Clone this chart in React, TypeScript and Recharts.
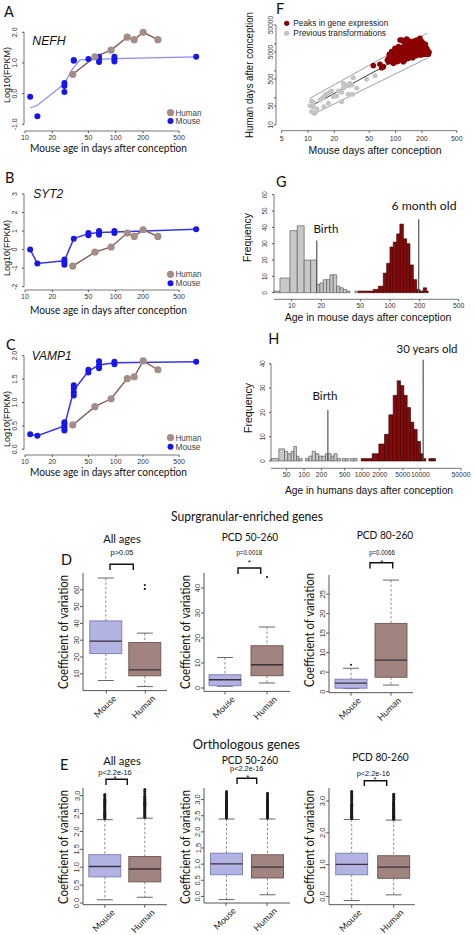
import React from 'react';
import { ComposedChart, Scatter, Line, Bar, XAxis, YAxis, ReferenceLine, ReferenceArea } from 'recharts';

const LATO = 'Lato, "Open Sans", sans-serif';
const ARIAL = '"Liberation Sans", Arial, sans-serif';

// ===== Panels A–C: log10(FPKM) vs mouse age (days after conception) =====
const mouseAgeDays = [11.4, 13.7, 27.2, 34.5, 50, 65.5, 96.8, 771];
const humanAgeInMouseDays = [33.6, 59, 89, 134, 160, 201, 292];
const ageTicks = [10, 20, 50, 100, 200, 500];

const nefhHuman = [0.63, 1.2, 1.42, 1.84, 1.76, 2.0, 1.76];
const nefhMouse = [[-0.1], [-0.74], [0.05, 0.25, 0.35], [1.07, 1.1], [1.13], [1.03, 1.12, 1.2], [1.05, 1.12, 1.2], [1.2]];
const nefhFitAges = [11.4, 13.7, 27.2, 32.7, 40.4, 65.5, 96.8, 771];
const nefhFit = [-0.47, -0.38, 0.32, 0.77, 1.1, 1.12, 1.14, 1.2];

const syt2Human = [-0.89, -0.14, 0.14, 0.89, 0.71, 1.07, 0.71];
const syt2Mouse = [[0], [-0.75], [-0.54, -0.68, -0.82], [0.59], [0.78, 0.9], [0.8, 0.9, 1.0], [0.9, 1.0], [1.1]];
const syt2MouseMean = [0, -0.75, -0.6, 0.59, 0.86, 0.92, 0.95, 1.1];

const vamp1Human = [0.52, 0.91, 1.08, 1.51, 1.55, 1.89, 1.7];
const vamp1Mouse = [[0.32], [0.29], [0.4, 0.44, 0.49, 0.54, 0.58], [1.15, 1.22, 1.3, 1.37], [1.64, 1.7], [1.73, 1.8, 1.88], [1.82, 1.87], [1.87]];
const vamp1MouseMean = [0.32, 0.29, 0.5, 1.26, 1.67, 1.8, 1.85, 1.87];

// ===== Panel F: human vs mouse days =====
const fXTicks = [5, 10, 20, 50, 100, 200, 500];
const fYTicks = [10, 50, 100, 500, 1000, 5000, 10000, 50000];
const fYLabelled = [10, 50, 500, 5000, 50000];
const prevMouseDays = [10.5, 11.5, 11.0, 12.6, 13.7, 14.7, 15.6, 16.3, 17.8, 18.6, 15.2, 19.5, 21.2, 24.2, 25.3, 26.4, 27.7, 28.9, 30.2, 31.6, 33.0, 28.9, 32.4, 24.2, 36.0, 46.8, 58.2, 11.5, 12.0, 17.1, 11.0, 22.2, 25.3];
const prevHumanDays = [51, 68, 31, 39, 83, 102, 128, 139, 160, 180, 47, 111, 117, 160, 225, 260, 300, 283, 346, 300, 560, 135, 135, 72, 225, 486, 664, 47, 27, 63, 77, 180, 346];
const peakMouseDays = [55.7, 66.4, 69.5, 72.6, 82.8, 80.6, 86.4, 90.3, 94.4, 98.6, 103, 104.9, 107.6, 112.5, 114.4, 117.5, 120.6, 124.9, 128.3, 131.7, 134.1, 137.6, 141.3, 146.3, 148.9, 152.9, 157, 159.7, 164, 168.4, 174.4, 177.5, 182.2, 187.1, 190.4, 193.8, 198.9, 204.2, 207.8, 211.5, 219.1, 222.9, 230.9, 237.1, 117.5, 134.1, 112.5, 124.9, 143.8, 174.4, 98.6, 90.3, 84.9, 108.6, 122.8, 140.1, 159.7, 182.2, 198.9, 157, 94.4,
  83.4, 88.0, 92.7, 97.7, 101.2, 106.7, 110.5, 115.5, 119.6, 122.8, 127.2, 130.6, 136.4, 142.5, 147.6, 151.6, 155.6, 162.6, 166.9, 171.4, 179.1, 185.4, 192.0, 200.7, 206.0, 215.2, 226.9, 235.0, 241.3, 219.1, 190.4, 171.4, 146.3, 128.3, 112.5, 103];
const peakHumanDays = [1560, 1750, 1315, 1430, 2190, 2530, 3080, 2190, 3870, 2750, 4860, 3360, 2320, 5930, 4100, 2910, 7240, 4860, 3460, 8580, 5930, 4100, 9620, 6830, 4860, 11410, 7880, 5450, 12780, 9080, 6460, 4100, 10470, 7880, 16040, 5450, 12070, 8580, 6830, 4460, 9620, 5930, 4860, 4100, 13920, 15150, 13920, 11410, 12780, 13920, 6830, 5150, 4100, 7880, 2190, 2910, 3660, 5150, 3870, 3080, 1900,
  2910, 3660, 2750, 4100, 3360, 5450, 3870, 5150, 3360, 6100, 7660, 4460, 7240, 5450, 8580, 4100, 6460, 7660, 4860, 10180, 7445, 6100, 9620, 4860, 10470, 7660, 6830, 5450, 4860, 4100, 3870, 3660, 3460, 2600, 2750, 2190];
const fitCenterMouse = [10.5, 208];
const fitCenterHuman = [47, 9080];
const fitUpperMouse = [10.5, 227];
const fitUpperHuman = [96, 24550];
const fitLowerMouse = [11, 237];
const fitLowerHuman = [23, 3080];

// ===== Panel G: histogram, mouse days =====
const gXTicks = [10, 20, 50, 100, 200, 500];
const gYTicks = [0, 10, 20, 30, 40, 50, 60];
const gPrevEdges = [6.6, 7.6, 9.6, 11.4, 13.4, 15.6, 17.9, 19.4, 21.0, 22.7, 24.5, 26.5, 28.7, 31.0, 33.5, 36.2, 39.2, 44.0, 47.6];
const gPrevCounts = [1, 9, 38, 41, 20, 20, 5, 6, 8, 8, 11, 11, 4, 3, 2, 1, 0, 1];
const gPeakEdges = [47.6, 67.7, 76.1, 85.5, 92.5, 100, 108, 117, 126, 137, 148, 160, 173, 187, 202, 218, 236, 245];
const gPeakCounts = [1, 2, 4, 12, 18, 28, 31, 36, 42, 33, 30, 17, 8, 2, 1, 3, 1];
const gBirthDay = 18;
const gBirthLineTop = 32;
const gSixMonthDay = 196;
const gSixMonthLineTop = 45;

// ===== Panel H: histogram, human days =====
const hXTicks = [50, 100, 200, 500, 1000, 2000, 5000, 10000, 50000];
const hYTicks = [0, 10, 20, 30, 40];
const hPrevEdges = [27.2, 36.9, 46.2, 52.7, 60.1, 66.8, 74.3, 81.5, 93, 106, 121, 138, 158, 180, 205, 234, 257, 293, 326, 372, 424, 453, 517, 590, 630, 719, 820];
const hPrevCounts = [1, 5, 4, 3, 4, 6, 2, 1, 0, 1, 2, 4, 3, 2, 2, 3, 3, 2, 3, 1, 0, 1, 1, 0, 1, 1];
const hPeakEdges = [961, 1486, 1933, 2420, 2873, 3411, 3993, 4558, 5200, 5936, 6774, 7730, 8817, 10070, 11190, 12420, 13990, 15970, 18230];
const hPeakCounts = [1, 3, 7, 11, 19, 27, 33, 31, 27, 22, 16, 13, 8, 3, 1, 0, 1, 1];
const hBirthDay = 257;
const hBirthLineTop = 21;
const hThirtyYearDay = 11190;
const hThirtyYearLineTop = 41.6;

// ===== Panels D & E: boxplots [lower whisker, Q1, median, Q3, upper whisker] =====
const supAllMouse = [6, 22, 29.4, 41.5, 67];
const supAllHuman = [2.4, 8.8, 12.3, 28.6, 34.2];
const supAllMouseOut: number[] = [];
const supAllHumanOut = [60.5, 62.8];
const sup50Mouse = [0.7, 0.9, 3.3, 5.3, 12.2];
const sup50Human = [2.0, 4.9, 9.3, 16.9, 24.4];
const sup50MouseOut: number[] = [];
const sup50HumanOut = [44.4];
const sup80Mouse = [0.8, 0.9, 2.2, 3.2, 6.0];
const sup80Human = [1.7, 3.7, 8.1, 17.5, 28.6];
const sup80MouseOut = [6.9];
const sup80HumanOut: number[] = [];

const orthAllMouse = [0.09, 0.73, 1.02, 1.35, 2.33];
const orthAllHuman = [0.16, 0.59, 0.95, 1.3, 2.37];
const orthAllMouseOut = [2.36, 2.39, 2.42, 2.45, 2.48, 2.51, 2.54, 2.57, 2.6, 2.63, 2.66, 2.69, 2.72, 2.75, 2.78, 2.81, 2.84, 2.87, 2.9, 2.95, 3.0, 3.03];
const orthAllHumanOut = [2.4, 2.43, 2.46, 2.49, 2.52, 2.55, 2.58, 2.61, 2.64, 2.67, 2.7, 2.73, 2.76, 2.79, 2.82, 2.85, 2.88, 2.91, 2.94, 2.97, 3.0, 3.06, 3.12, 3.17];
const orth50Mouse = [-0.1, 0.67, 1.01, 1.34, 2.4];
const orth50Human = [0.05, 0.57, 0.91, 1.29, 2.4];
const orth50MouseOut = [2.43, 2.46, 2.49, 2.52, 2.55, 2.58, 2.61, 2.64, 2.67, 2.7, 2.73, 2.76, 2.79, 2.82, 2.85, 2.88, 2.91, 2.94, 2.97, 3.0, 3.05, 3.1, 3.15, 3.2, 3.25];
const orth50HumanOut = [2.43, 2.46, 2.49, 2.52, 2.55, 2.58, 2.61, 2.64, 2.67, 2.7, 2.73, 2.76, 2.79, 2.82, 2.85, 2.88, 2.91, 2.94, 2.97, 3.0, 3.05, 3.1, 3.15, 3.2];
const orth80Mouse = [-0.13, 0.68, 1.01, 1.36, 2.42];
const orth80Human = [0.05, 0.57, 0.92, 1.28, 2.4];
const orth80MouseOut = [2.45, 2.48, 2.51, 2.54, 2.57, 2.6, 2.63, 2.66, 2.69, 2.72, 2.75, 2.78, 2.81, 2.84, 2.87, 2.9, 2.95, 3.0, 3.05, 3.1, 3.15, 3.2, 3.25, 3.3];
const orth80HumanOut = [2.43, 2.46, 2.49, 2.52, 2.55, 2.58, 2.61, 2.64, 2.67, 2.7, 2.73, 2.76, 2.79, 2.82, 2.85, 2.88, 2.91, 2.94, 2.97, 3.0, 3.06, 3.12, 3.17, 3.21];

const MT = 4;
const MR = 4;
const AX = '#555';

function XTickR(props: any) {
  const { x, y, payload, fs = 7 } = props;
  return (
    <text x={x} y={y} dy={fs * 0.72} textAnchor="middle" fontSize={fs} fontFamily={ARIAL} fill="#333">
      {String(payload.value)}
    </text>
  );
}

function YTickR(props: any) {
  const { x, y, payload, fs = 7, fmt, show } = props;
  const v = payload.value;
  if (show && !show.includes(v)) return <g />;
  const label = fmt ? fmt(v) : String(v);
  return (
    <text x={x} y={y} transform={`rotate(-90 ${x} ${y})`} textAnchor="middle" fontSize={fs} fontFamily={ARIAL} fill="#333">
      {label}
    </text>
  );
}

function CatTick(props: any) {
  const { x, y, payload } = props;
  const ax = x + 8;
  const ay = y + 1;
  return (
    <text x={ax} y={ay} transform={`rotate(-45 ${ax} ${ay})`} textAnchor="end" dominantBaseline="central" fontSize={9} fontFamily={LATO} fill="#222">
      {payload.value}
    </text>
  );
}

function ExprPanel(p: any) {
  const { l, t, r, b, xDomain, yDomain, yTicks, yFmt, human, mouse, lineAges, lineVals, lineColor, lineW } = p;
  const yw = l;
  const xh = 28;
  const humanData = humanAgeInMouseDays.map((x, i) => ({ x, y: human[i] }));
  const mouseData = mouseAgeDays.flatMap((x, i) => mouse[i].map((y: number) => ({ x, y })));
  const lineData = lineAges.map((x: number, i: number) => ({ x, y: lineVals[i] }));
  return (
    <div style={{ position: 'absolute', left: l - yw, top: t - MT }}>
      <ComposedChart width={r - l + yw + MR} height={b - t + MT + xh} margin={{ top: MT, right: MR, bottom: 0, left: 0 }}>
        <XAxis type="number" dataKey="x" scale="log" domain={xDomain} allowDataOverflow ticks={ageTicks} interval={0} height={xh}
          axisLine={false} tickSize={2} tickMargin={2} tickLine={{ stroke: AX }} tick={<XTickR fs={7} />} />
        <YAxis type="number" dataKey="y" domain={yDomain} allowDataOverflow ticks={yTicks} interval={0} width={yw}
          axisLine={false} tickSize={2} tickMargin={4.5} tickLine={{ stroke: AX }} tick={<YTickR fs={7} fmt={yFmt} />} />
        <ReferenceLine segment={[{ x: 10, y: yDomain[0] }, { x: 500, y: yDomain[0] }]} stroke={AX} strokeWidth={0.8} ifOverflow="visible" />
        <ReferenceLine segment={[{ x: xDomain[0], y: yTicks[0] }, { x: xDomain[0], y: yTicks[yTicks.length - 1] }]} stroke={AX} strokeWidth={0.8} ifOverflow="visible" />
        <Line data={lineData} dataKey="y" type="linear" stroke={lineColor} strokeWidth={lineW} dot={false} isAnimationActive={false} />
        <Scatter data={mouseData} dataKey="y" fill="#1717e8" isAnimationActive={false}
          shape={(s: any) => <circle cx={s.cx} cy={s.cy} r={3} fill="#1717e8" />} />
        <Line data={humanData} dataKey="y" type="linear" stroke="#7d5c57" strokeWidth={1.4}
          dot={{ r: 3.6, fill: '#a58c87', stroke: '#a58c87', strokeWidth: 0 }} isAnimationActive={false} />
      </ComposedChart>
    </div>
  );
}

function FPanel() {
  const l = 276, t = 16, r = 470, b = 130.7;
  const yw = 36, xh = 28;
  const xDomain = [4.31, 709];
  const yDomain = [6.08, 107700];
  const prev = prevMouseDays.map((x, i) => ({ x, y: prevHumanDays[i] }));
  const peak = peakMouseDays.map((x, i) => ({ x, y: peakHumanDays[i] }));
  const center = fitCenterMouse.map((x, i) => ({ x, y: fitCenterHuman[i] }));
  const upper = fitUpperMouse.map((x, i) => ({ x, y: fitUpperHuman[i] }));
  const lower = fitLowerMouse.map((x, i) => ({ x, y: fitLowerHuman[i] }));
  return (
    <div style={{ position: 'absolute', left: l - yw, top: t - MT }}>
      <ComposedChart width={r - l + yw + MR} height={b - t + MT + xh} margin={{ top: MT, right: MR, bottom: 0, left: 0 }}>
        <XAxis type="number" dataKey="x" scale="log" domain={xDomain} allowDataOverflow ticks={fXTicks} interval={0} height={xh}
          axisLine={false} tickSize={2} tickMargin={3.5} tickLine={{ stroke: AX }} tick={<XTickR fs={7} />} />
        <YAxis type="number" dataKey="y" scale="log" domain={yDomain} allowDataOverflow ticks={fYTicks} interval={0} width={yw}
          axisLine={false} tickSize={2} tickMargin={1} tickLine={{ stroke: AX }} tick={<YTickR fs={6.5} show={fYLabelled} />} />
        <ReferenceLine segment={[{ x: 5, y: yDomain[0] }, { x: 500, y: yDomain[0] }]} stroke={AX} strokeWidth={0.8} ifOverflow="visible" />
        <ReferenceLine segment={[{ x: xDomain[0], y: 10 }, { x: xDomain[0], y: 50000 }]} stroke={AX} strokeWidth={0.8} ifOverflow="visible" />
        <Line data={upper} dataKey="y" type="linear" stroke="#a0a0a0" strokeWidth={1} dot={false} isAnimationActive={false} />
        <Line data={lower} dataKey="y" type="linear" stroke="#a0a0a0" strokeWidth={1} dot={false} isAnimationActive={false} />
        <Scatter data={prev} dataKey="y" fill="#c4c4c4" isAnimationActive={false}
          shape={(s: any) => <circle cx={s.cx} cy={s.cy} r={2.5} fill="#c4c4c4" />} />
        <Scatter data={peak} dataKey="y" fill="#8b0000" isAnimationActive={false}
          shape={(s: any) => <circle cx={s.cx} cy={s.cy} r={2.8} fill="#8b0000" />} />
        <Line data={center} dataKey="y" type="linear" stroke="#3a3a3a" strokeWidth={1} dot={false} isAnimationActive={false} />
      </ComposedChart>
    </div>
  );
}

function HistPanel(p: any) {
  const { l, t, r, b, xDomain, yDomain, xTicks, yTicks, prevEdges, prevCounts, peakEdges, peakCounts, marks, yTickMargin } = p;
  const yw = 30, xh = 26;
  const bins = (edges: number[], counts: number[]) =>
    counts.map((c, i) => ({ x0: edges[i], x1: edges[i + 1], c })).filter((d) => d.c > 0);
  const prev = bins(prevEdges, prevCounts);
  const peak = bins(peakEdges, peakCounts);
  const tops = [...prev, ...peak].map((d) => ({ x: Math.sqrt(d.x0 * d.x1), y: d.c }));
  return (
    <div style={{ position: 'absolute', left: l - yw, top: t - MT }}>
      <ComposedChart width={r - l + yw + MR} height={b - t + MT + xh} margin={{ top: MT, right: MR, bottom: 0, left: 0 }}>
        <XAxis type="number" dataKey="x" scale="log" domain={xDomain} allowDataOverflow ticks={xTicks} interval={0} height={xh}
          axisLine={false} tickSize={2} tickMargin={2} tickLine={{ stroke: AX }} tick={<XTickR fs={6.8} />} />
        <YAxis type="number" dataKey="y" domain={yDomain} allowDataOverflow ticks={yTicks} interval={0} width={yw}
          axisLine={false} tickSize={2} tickMargin={yTickMargin} tickLine={{ stroke: AX }} tick={<YTickR fs={6.3} />} />
        <ReferenceLine segment={[{ x: xDomain[0], y: yDomain[0] }, { x: xTicks[xTicks.length - 1], y: yDomain[0] }]} stroke={AX} strokeWidth={0.8} ifOverflow="visible" />
        <ReferenceLine segment={[{ x: xDomain[0], y: yTicks[0] }, { x: xDomain[0], y: yTicks[yTicks.length - 1] }]} stroke={AX} strokeWidth={0.8} ifOverflow="visible" />
        {prev.map((d, i) => (
          <ReferenceArea key={'p' + i} x1={d.x0} x2={d.x1} y1={0} y2={d.c} fill="#c8c8c8" fillOpacity={1} stroke="#4d4d4d" strokeWidth={0.6} ifOverflow="visible" />
        ))}
        {peak.map((d, i) => (
          <ReferenceArea key={'k' + i} x1={d.x0} x2={d.x1} y1={0} y2={d.c} fill="#860a0a" fillOpacity={1} stroke="#2b0000" strokeWidth={0.6} ifOverflow="visible" />
        ))}
        {marks.map((m: number[], i: number) => (
          <ReferenceLine key={'m' + i} segment={[{ x: m[0], y: 0 }, { x: m[0], y: m[1] }]} stroke="#555" strokeWidth={1.2} ifOverflow="visible" />
        ))}
        <Scatter data={tops} dataKey="y" isAnimationActive={false} shape={() => <g />} />
      </ComposedChart>
    </div>
  );
}

const BOX_COLORS: Record<string, { fill: string; stroke: string }> = {
  Mouse: { fill: '#b3b3e3', stroke: '#7a7ab8' },
  Human: { fill: '#a1837f', stroke: '#6d5350' },
};

function BoxShape(props: any) {
  const { x, y, width, height, payload, outR } = props;
  const [lo, q1, med, q3, hi] = payload.stats;
  const top = Math.min(y, y + height);
  const bot = Math.max(y, y + height);
  const ppu = (bot - top) / (q3 - q1);
  const py = (v: number) => top + (q3 - v) * ppu;
  const cx = x + width / 2;
  const cap = width / 4;
  const c = BOX_COLORS[payload.name];
  return (
    <g>
      <line x1={cx} x2={cx} y1={py(hi)} y2={top} stroke="#808080" strokeWidth={0.9} strokeDasharray="2.5 2" />
      <line x1={cx} x2={cx} y1={bot} y2={py(lo)} stroke="#808080" strokeWidth={0.9} strokeDasharray="2.5 2" />
      <line x1={cx - cap} x2={cx + cap} y1={py(hi)} y2={py(hi)} stroke="#555" strokeWidth={0.9} />
      <line x1={cx - cap} x2={cx + cap} y1={py(lo)} y2={py(lo)} stroke="#555" strokeWidth={0.9} />
      <rect x={x} y={top} width={width} height={bot - top} fill={c.fill} stroke={c.stroke} strokeWidth={0.9} />
      <line x1={x} x2={x + width} y1={py(med)} y2={py(med)} stroke="#3b3038" strokeWidth={1.3} />
      {payload.out.map((v: number, i: number) => (
        <circle key={i} cx={cx} cy={py(v)} r={outR} fill="#1a1a1a" />
      ))}
    </g>
  );
}

function BoxPanel(p: any) {
  const { l, t, r, b, yDomain, yTicks, yFmt, mouse, human, mouseOut, humanOut, padL, padR, outR } = p;
  const data = [
    { name: 'Mouse', box: [mouse[1], mouse[3]], stats: mouse, out: mouseOut },
    { name: 'Human', box: [human[1], human[3]], stats: human, out: humanOut },
  ];
  const yw = 26, xh = 30;
  return (
    <div style={{ position: 'absolute', left: l - yw, top: t - MT }}>
      <ComposedChart data={data} width={r - l + yw + MR} height={b - t + MT + xh} margin={{ top: MT, right: MR, bottom: 0, left: 0 }}>
        <XAxis dataKey="name" type="category" padding={{ left: padL, right: padR }} height={xh} interval={0}
          tickSize={3} tickLine={{ stroke: AX }} axisLine={{ stroke: AX }} tick={<CatTick />} />
        <YAxis type="number" domain={yDomain} allowDataOverflow ticks={yTicks} interval={0} width={yw}
          tickSize={3} tickMargin={0.5} axisLine={{ stroke: AX }} tickLine={{ stroke: AX }} tick={<YTickR fs={7.5} fmt={yFmt} />} />
        <Bar dataKey="box" barSize={32} isAnimationActive={false} shape={(s: any) => <BoxShape {...s} outR={outR} />} />
      </ComposedChart>
    </div>
  );
}

function T(p: any) {
  const { x, y, children, fs = 12, ff = LATO, anchor = 'middle', len, italic, fill = '#111', rot } = p;
  return (
    <text x={x} y={y} fontSize={fs} fontFamily={ff} textAnchor={anchor} fill={fill}
      fontStyle={italic ? 'italic' : undefined}
      textLength={len} lengthAdjust={len ? 'spacingAndGlyphs' : undefined}
      dominantBaseline={rot ? 'central' : undefined}
      transform={rot ? `rotate(${rot} ${x} ${y})` : undefined}>
      {children}
    </text>
  );
}

function Bracket({ x1, x2, y1, y2 }: any) {
  return <path d={`M${x1} ${y2} L${x1} ${y1} L${x2} ${y1} L${x2} ${y2}`} stroke="#111" strokeWidth={1.4} fill="none" />;
}

const fmt1 = (v: number) => v.toFixed(1);

export default function App() {
  return (
    <div style={{ position: 'absolute', left: 0, top: 0, width: 475, height: 935, background: '#fff', overflow: 'hidden' }}>
      <ExprPanel l={24} t={18} r={205} b={131} xDomain={[9.75, 965]} yDomain={[-1.218, 2.466]} yTicks={[-1, 0, 1, 2]} yFmt={fmt1}
        human={nefhHuman} mouse={nefhMouse} lineAges={nefhFitAges} lineVals={nefhFit} lineColor="#8c8cf0" lineW={1.2} />
      <ExprPanel l={24} t={186} r={205} b={290} xDomain={[9.75, 965]} yDomain={[-2.18, 3.43]} yTicks={[-2, -1, 0, 1, 2, 3]}
        human={syt2Human} mouse={syt2Mouse} lineAges={mouseAgeDays} lineVals={syt2MouseMean} lineColor="#3535ee" lineW={1.5} />
      <ExprPanel l={24} t={345} r={205} b={455} xDomain={[9.75, 965]} yDomain={[-0.122, 2.229]} yTicks={[0, 0.5, 1, 1.5, 2]} yFmt={fmt1}
        human={vamp1Human} mouse={vamp1Mouse} lineAges={mouseAgeDays} lineVals={vamp1MouseMean} lineColor="#3535ee" lineW={1.5} />

      <FPanel />
      <HistPanel l={274} t={190} r={470} b={299.3} xDomain={[6.61, 652]} yDomain={[-4.04, 62.9]} xTicks={gXTicks} yTicks={gYTicks}
        prevEdges={gPrevEdges} prevCounts={gPrevCounts} peakEdges={gPeakEdges} peakCounts={gPeakCounts} yTickMargin={5}
        marks={[[gBirthDay, gBirthLineTop], [gSixMonthDay, gSixMonthLineTop]]} />
      <HistPanel l={270.5} t={355} r={470} b={468.3} xDomain={[27.07, 72800]} yDomain={[-3.0, 43.6]} xTicks={hXTicks} yTicks={hYTicks}
        prevEdges={hPrevEdges} prevCounts={hPrevCounts} peakEdges={hPeakEdges} peakCounts={hPeakCounts} yTickMargin={4}
        marks={[[hBirthDay, hBirthLineTop], [hThirtyYearDay, hThirtyYearLineTop]]} />

      <BoxPanel l={82.7} t={573.2} r={166.7} b={690.8} yDomain={[0, 70]} yTicks={[10, 20, 30, 40, 50, 60]} padL={3.8} padR={2.2}
        mouse={supAllMouse} human={supAllHuman} mouseOut={supAllMouseOut} humanOut={supAllHumanOut} outR={1.1} />
      <BoxPanel l={204} t={573.3} r={290} b={691.7} yDomain={[-1.36, 46]} yTicks={[0, 10, 20, 30, 40]} padL={0} padR={2}
        mouse={sup50Mouse} human={sup50Human} mouseOut={sup50MouseOut} humanOut={sup50HumanOut} outR={1.1} />
      <BoxPanel l={329} t={575} r={413} b={692.7} yDomain={[-0.256, 29.9]} yTicks={[0, 5, 10, 15, 20, 25]} padL={2} padR={2}
        mouse={sup80Mouse} human={sup80Human} mouseOut={sup80MouseOut} humanOut={sup80HumanOut} outR={1.1} />
      <BoxPanel l={82.7} t={788.3} r={166.7} b={905} yDomain={[-0.0475, 3.215]} yTicks={[0, 0.5, 1, 1.5, 2, 2.5, 3]} yFmt={fmt1} padL={1.8} padR={2.2}
        mouse={orthAllMouse} human={orthAllHuman} mouseOut={orthAllMouseOut} humanOut={orthAllHumanOut} outR={1.5} />
      <BoxPanel l={204} t={788.3} r={290} b={903.3} yDomain={[-0.205, 3.36]} yTicks={[0, 0.5, 1, 1.5, 2, 2.5, 3]} yFmt={fmt1} padL={1.5} padR={2.5}
        mouse={orth50Mouse} human={orth50Human} mouseOut={orth50MouseOut} humanOut={orth50HumanOut} outR={1.5} />
      <BoxPanel l={329.3} t={788.3} r={415} b={905} yDomain={[-0.26, 3.41]} yTicks={[0, 1, 2, 3]} yFmt={fmt1} padL={1.7} padR={0}
        mouse={orth80Mouse} human={orth80Human} mouseOut={orth80MouseOut} humanOut={orth80HumanOut} outR={1.5} />

      <svg width={475} height={935} style={{ position: 'absolute', left: 0, top: 0, pointerEvents: 'none' }}>
        {/* panel letters */}
        <T x={4} y={16.7} fs={14.5} anchor="start">A</T>
        <T x={5} y={183.3} fs={14.5} anchor="start">B</T>
        <T x={6} y={350} fs={14.5} anchor="start">C</T>
        <T x={276} y={14} fs={14.5} anchor="start">F</T>
        <T x={276} y={186.7} fs={14.5} anchor="start">G</T>
        <T x={268.3} y={344} fs={14.5} anchor="start">H</T>
        <T x={61} y={565} fs={14.5} anchor="start">D</T>
        <T x={60} y={770} fs={14.5} anchor="start">E</T>

        {/* A–C */}
        <T x={32.3} y={45} fs={12.5} ff={ARIAL} italic anchor="start" len={33.4}>NEFH</T>
        <T x={33.3} y={198} fs={12.5} ff={ARIAL} italic anchor="start" len={30}>SYT2</T>
        <T x={31.7} y={360} fs={12.5} ff={ARIAL} italic anchor="start" len={40}>VAMP1</T>
        <T x={6} y={75} fs={9.5} ff={ARIAL} rot={-90} len={56}>Log10(FPKM)</T>
        <T x={6} y={248} fs={9.5} ff={ARIAL} rot={-90} len={56}>Log10(FPKM)</T>
        <T x={6} y={419} fs={9.5} ff={ARIAL} rot={-90} len={56}>Log10(FPKM)</T>
        <T x={108.5} y={151.5} fs={11.5} len={157}>Mouse age in days after conception</T>
        <T x={108.5} y={314} fs={11.5} len={157}>Mouse age in days after conception</T>
        <T x={108.5} y={475.5} fs={11.5} len={157}>Mouse age in days after conception</T>
        {[[112.7, 121], [274.3, 283.3], [437.7, 446.7]].map(([hy, my], i) => (
          <g key={i}>
            <circle cx={170.5} cy={hy} r={3.6} fill="#a58c87" />
            <circle cx={170.5} cy={my} r={3} fill="#1717e8" />
            <T x={175.5} y={hy + 3} fs={8.5} ff={ARIAL} anchor="start" len={26} fill="#444">Human</T>
            <T x={175.5} y={my + 3} fs={8.5} ff={ARIAL} anchor="start" len={25} fill="#444">Mouse</T>
          </g>
        ))}

        {/* F */}
        <T x={248.5} y={75} fs={11} ff={ARIAL} rot={-90} len={126}>Human days after conception</T>
        <T x={375} y={154} fs={11.5} ff={ARIAL} len={133}>Mouse days after conception</T>
        <circle cx={286.7} cy={23.3} r={2.6} fill="#8b0000" />
        <circle cx={286.7} cy={33.3} r={2.6} fill="#c4c4c4" />
        <T x={293.3} y={26.3} fs={8.5} ff={ARIAL} anchor="start" len={95} fill="#222">Peaks in gene expression</T>
        <T x={293.3} y={36.3} fs={8.5} ff={ARIAL} anchor="start" len={92.7} fill="#222">Previous transformations</T>

        {/* G */}
        <T x={247.3} y={237.5} fs={10.5} ff={ARIAL} rot={-90} len={49}>Frequency</T>
        <T x={368} y={321} fs={10} ff={ARIAL} len={166.7}>Age in mouse days after conception</T>
        <T x={326} y={233.3} fs={11} len={25}>Birth</T>
        <T x={424} y={210} fs={12} len={65}>6 month old</T>

        {/* H */}
        <T x={248.3} y={408} fs={10.5} ff={ARIAL} rot={-90} len={50}>Frequency</T>
        <T x={369} y={494} fs={10} ff={ARIAL} len={168}>Age in humans days after conception</T>
        <T x={325} y={400} fs={11} len={25}>Birth</T>
        <T x={427} y={353} fs={12} len={61}>30 years old</T>

        {/* D */}
        <T x={247} y={521} fs={13} len={152}>Suprgranular-enriched genes</T>
        <T x={122} y={543} fs={12} len={37.7}>All ages</T>
        <T x={122} y={554.5} fs={7} ff={ARIAL} len={23}>p&gt;0.05</T>
        <Bracket x1={110} x2={133.3} y1={564.3} y2={570} />
        <T x={250} y={540.7} fs={12} len={56.6}>PCD 50-260</T>
        <T x={249.3} y={555} fs={7} ff={ARIAL} len={25.7}>p=0.0018</T>
        <T x={249.3} y={565} fs={8} ff={ARIAL}>*</T>
        <Bracket x1={238} x2={260.7} y1={568} y2={574} />
        <T x={385} y={539} fs={12} len={56.6}>PCD 80-260</T>
        <T x={382} y={554.7} fs={7} ff={ARIAL} len={25.7}>p=0.0066</T>
        <T x={381.7} y={565} fs={8} ff={ARIAL}>*</T>
        <Bracket x1={370} x2={392.7} y1={562.7} y2={568.5} />
        <T x={63} y={632} fs={12.5} rot={-90} len={114}>Coefficient of variation</T>
        <T x={185} y={632} fs={12.5} rot={-90} len={114}>Coefficient of variation</T>
        <T x={309} y={630} fs={12.5} rot={-90} len={114}>Coefficient of variation</T>

        {/* E */}
        <T x={246.3} y={748.5} fs={13} len={107}>Orthologous genes</T>
        <T x={122} y={764.5} fs={12} len={37.7}>All ages</T>
        <T x={115} y={774.5} fs={7} ff={ARIAL} len={33.3}>p&lt;2.2e-16</T>
        <T x={115} y={781} fs={8} ff={ARIAL}>*</T>
        <Bracket x1={106} x2={127.3} y1={779.3} y2={785} />
        <T x={250} y={763.5} fs={12} len={56.6}>PCD 50-260</T>
        <T x={246.7} y={771} fs={7} ff={ARIAL} len={33.3}>p&lt;2.2e-16</T>
        <T x={247.7} y={780} fs={8} ff={ARIAL}>*</T>
        <Bracket x1={237} x2={256.7} y1={778.3} y2={784} />
        <T x={380.5} y={761} fs={12} len={56.6}>PCD 80-260</T>
        <T x={373.3} y={775.5} fs={7} ff={ARIAL} len={33.3}>p&lt;2.2e-16</T>
        <T x={375} y={782} fs={8} ff={ARIAL}>*</T>
        <Bracket x1={364.3} x2={386.7} y1={780.7} y2={786} />
        <T x={63} y={847} fs={12.5} rot={-90} len={114}>Coefficient of variation</T>
        <T x={185} y={847} fs={12.5} rot={-90} len={114}>Coefficient of variation</T>
        <T x={309} y={847} fs={12.5} rot={-90} len={114}>Coefficient of variation</T>
      </svg>
    </div>
  );
}
